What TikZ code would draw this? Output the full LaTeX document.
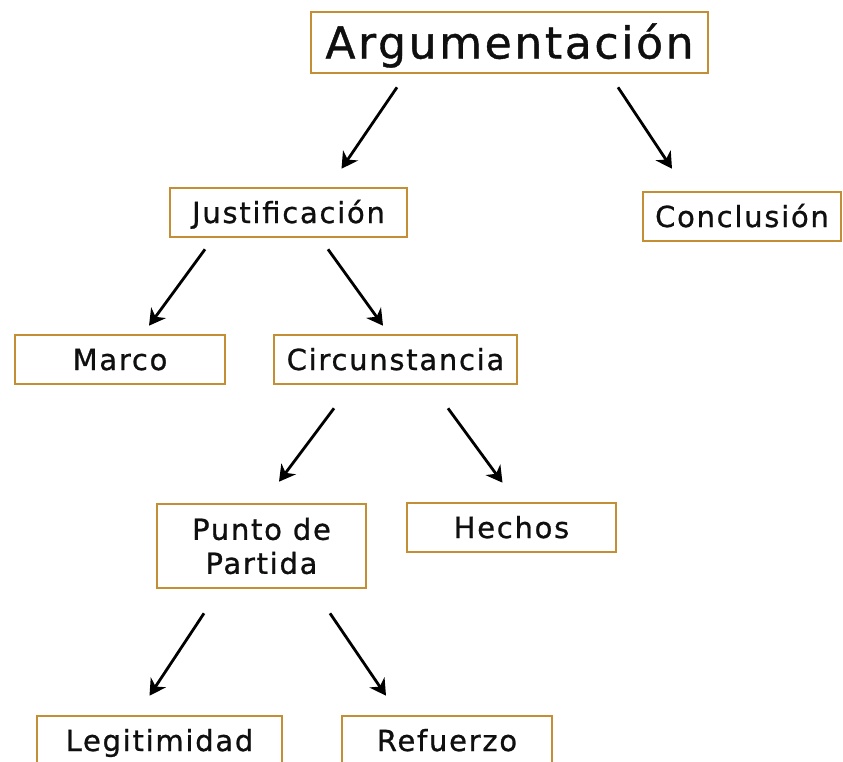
\documentclass[tikz,border=0pt]{standalone}
\usepackage{fontspec}
\setmainfont[LetterSpace=6,FakeBold=0.9]{DejaVu Sans}
\usetikzlibrary{arrows.meta}

\definecolor{boxgold}{RGB}{196,142,52}
\definecolor{inkblack}{RGB}{15,15,15}

\begin{document}
\begin{tikzpicture}[x=1pt,y=-1pt,
	block/.style={
		rectangle,
		draw=boxgold,
		line width=2.6pt,
		text=inkblack,
		align=center,
		inner sep=0pt,
		minimum height=49pt,
		font=\fontsize{29}{34}\selectfont
	},
	oneline/.style={
		block,
		text height=21pt,
		text depth=0pt
	},
	topic/.style={
		block,
		minimum height=61pt,
		text height=32pt,
		text depth=0pt,
		font=\fontsize{44}{50}\selectfont
	},
	link/.style={
		line width=2.8pt,
		-{Stealth[length=16pt,width=18pt,inset=5pt]}
	},
]

\useasboundingbox (0,0) rectangle (843,761);

% Top
\node[topic, minimum width=397pt] (arg) at (509.5,42.5) {Argumentación};

% Second row
\node[oneline, minimum width=237pt] (just) at (288.5,212.5) {Justificación};
\node[oneline, minimum width=198pt] (concl) at (742,216.5) {Conclusión};

% Third row
\node[oneline, minimum width=210pt] (marco) at (120,359.5) {Marco};
\node[oneline, minimum width=243pt] (circ) at (395.5,359.5) {Circunstancia};

% Fourth row
\node[block, minimum width=209pt, minimum height=84pt] (punto) at (261.5,546) {Punto de\\Partida};
\node[oneline, minimum width=209pt] (hechos) at (511.5,527.5) {Hechos};

% Bottom
\node[oneline, minimum width=245pt] (legit) at (159.5,740.5) {Legitimidad};
\node[oneline, minimum width=210pt] (refuerzo) at (447,740.5) {Refuerzo};

\draw[link] ([xshift=-112.5pt,yshift=-13pt]arg.south) -- ([xshift=53pt,yshift=18pt]just.north);
\draw[link] ([xshift=108.5pt,yshift=-13pt]arg.south) -- ([xshift=-70pt,yshift=22pt]concl.north);

\draw[link] ([xshift=-83.5pt,yshift=-11pt]just.south) -- ([xshift=29pt,yshift=8pt]marco.north);
\draw[link] ([xshift=39.5pt,yshift=-11pt]just.south) -- ([xshift=-12.5pt,yshift=8pt]circ.north);

\draw[link] ([xshift=-61.5pt,yshift=-23pt]circ.south) -- ([xshift=17.5pt,yshift=21pt]punto.north);
\draw[link] ([xshift=52.5pt,yshift=-23pt]circ.south) -- ([xshift=-9pt,yshift=19pt]hechos.north);

\draw[link] ([xshift=-57.5pt,yshift=-24pt]punto.south) -- ([xshift=-10pt,yshift=19pt]legit.north);
\draw[link] ([xshift=68.5pt,yshift=-24pt]punto.south) -- ([xshift=-61pt,yshift=19pt]refuerzo.north);

\end{tikzpicture}
\end{document}
